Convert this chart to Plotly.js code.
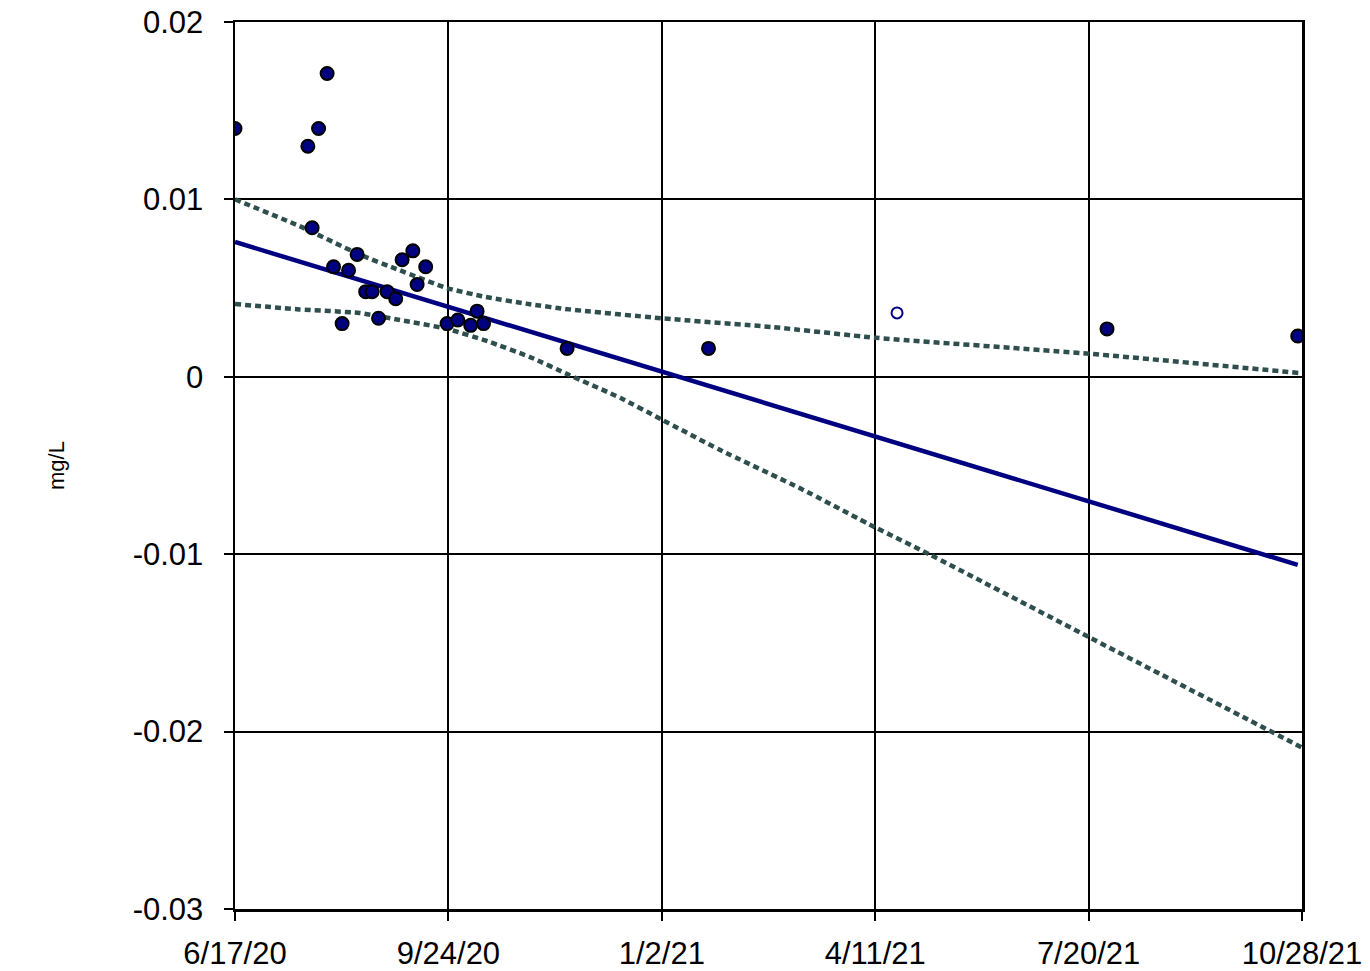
<!DOCTYPE html>
<html>
<head>
<meta charset="utf-8">
<script src="https://cdn.plot.ly/plotly-3.0.1.min.js"></script>
<style>
  html, body { margin: 0; padding: 0; background: #ffffff; }
  #chart { width: 1370px; height: 971px; }
</style>
</head>
<body>
<div id="chart"></div>
<script>
// Measured samples (filled markers)
const sampleDates = [
  "2020-06-17", "2020-07-21", "2020-07-23", "2020-07-26", "2020-07-30",
  "2020-08-02", "2020-08-06", "2020-08-09", "2020-08-13", "2020-08-17",
  "2020-08-20", "2020-08-23", "2020-08-27", "2020-08-31", "2020-09-03",
  "2020-09-08", "2020-09-10", "2020-09-14", "2020-09-24", "2020-09-29",
  "2020-10-05", "2020-10-08", "2020-10-11", "2020-11-19", "2021-01-24",
  "2021-07-29", "2021-10-26"
];
const sampleValues = [
  0.0140, 0.0130, 0.0084, 0.0140, 0.0171,
  0.0062, 0.0030, 0.0060, 0.0069, 0.0048,
  0.0048, 0.0033, 0.0048, 0.0044, 0.0066,
  0.0071, 0.0052, 0.0062, 0.0030, 0.0032,
  0.0029, 0.0037, 0.0030, 0.0016, 0.0016,
  0.0027, 0.0023
];

// Open marker sample
const openDates = ["2021-04-22"];
const openValues = [0.0036];

// Trend line (read at its ends)
const trendDates = ["2020-06-17", "2021-10-26"];
const trendValues = [0.0076, -0.0106];

// Upper confidence band
const upperDates = [
  "2020-06-17", "2020-07-17", "2020-08-14", "2020-09-02", "2020-09-24",
  "2020-10-12", "2020-11-01", "2020-11-20", "2021-01-02", "2021-02-23",
  "2021-04-12", "2021-07-21", "2021-10-28"
];
const upperValues = [
  0.0100, 0.0085, 0.0069, 0.0060, 0.0050,
  0.0045, 0.0041, 0.0038, 0.0033, 0.0028,
  0.0022, 0.0013, 0.0002
];

// Lower confidence band
const lowerDates = [
  "2020-06-17", "2020-07-17", "2020-08-14", "2020-09-02", "2020-09-24",
  "2020-10-13", "2020-11-02", "2020-11-20", "2020-12-14", "2021-01-02",
  "2021-01-29", "2021-03-08", "2021-04-12", "2021-05-07", "2021-07-21",
  "2021-10-28"
];
const lowerValues = [
  0.0041, 0.0038, 0.0036, 0.0032, 0.0027,
  0.0020, 0.0011, 0.0001, -0.0012, -0.0024,
  -0.0041, -0.0063, -0.0085, -0.0100, -0.0147,
  -0.0209
];

// Axis ticks
const xTickVals = [
  "2020-06-17", "2020-09-24 14:24", "2021-01-02 04:48",
  "2021-04-11 19:12", "2021-07-20 09:36", "2021-10-28"
];
const xTickText = ["6/17/20", "9/24/20", "1/2/21", "4/11/21", "7/20/21", "10/28/21"];
const yTickVals = [0.02, 0.01, 0, -0.01, -0.02, -0.03];
const yTickText = ["0.02", "0.01", "0", "-0.01", "-0.02", "-0.03"];

const bandColor = "#2f4f4f";
const navy = "#000080";
const fontFamily = "Liberation Sans, Arial, sans-serif";

const traces = [
  {
    x: upperDates, y: upperValues, type: "scatter", mode: "lines",
    line: { color: bandColor, width: 4.5, dash: "6px,4px", shape: "spline", smoothing: 0.5 },
    hoverinfo: "skip", showlegend: false
  },
  {
    x: lowerDates, y: lowerValues, type: "scatter", mode: "lines",
    line: { color: bandColor, width: 4.5, dash: "6px,4px", shape: "spline", smoothing: 0.5 },
    hoverinfo: "skip", showlegend: false
  },
  {
    x: trendDates, y: trendValues, type: "scatter", mode: "lines",
    line: { color: navy, width: 4.5 },
    showlegend: false
  },
  {
    x: sampleDates, y: sampleValues, type: "scatter", mode: "markers",
    marker: { color: navy, size: 13, line: { color: "#000000", width: 2 } },
    showlegend: false
  },
  {
    x: openDates, y: openValues, type: "scatter", mode: "markers",
    marker: { color: "#ffffff", size: 11, line: { color: navy, width: 2 } },
    showlegend: false
  }
];

const layout = {
  width: 1370,
  height: 971,
  paper_bgcolor: "#ffffff",
  plot_bgcolor: "#ffffff",
  margin: { l: 235, r: 68, t: 22, b: 62, pad: 0 },
  font: { family: fontFamily, color: "#000000" },
  xaxis: {
    type: "date",
    range: ["2020-06-17", "2021-10-28"],
    tickmode: "array",
    tickvals: xTickVals,
    ticktext: xTickText,
    tickfont: { size: 31, family: fontFamily },
    ticks: "outside",
    ticklen: 9,
    tickwidth: 2,
    tickcolor: "#000000",
    ticklabelstandoff: 6,
    showgrid: true,
    gridcolor: "#000000",
    gridwidth: 2,
    showline: true,
    linecolor: "#000000",
    linewidth: 2.5,
    mirror: true,
    zeroline: false,
    automargin: false
  },
  yaxis: {
    range: [-0.03, 0.02],
    tickmode: "array",
    tickvals: yTickVals,
    ticktext: yTickText,
    tickfont: { size: 31, family: fontFamily },
    ticks: "outside",
    ticklen: 9,
    tickwidth: 2,
    tickcolor: "#000000",
    ticklabelstandoff: 14,
    showgrid: true,
    gridcolor: "#000000",
    gridwidth: 2,
    showline: true,
    linecolor: "#000000",
    linewidth: 2.5,
    mirror: true,
    zeroline: false,
    automargin: false,
    title: { text: "mg/L", font: { size: 22, family: fontFamily }, standoff: 62 }
  }
};

Plotly.newPlot("chart", traces, layout, { staticPlot: true, displayModeBar: false });
</script>
</body>
</html>
